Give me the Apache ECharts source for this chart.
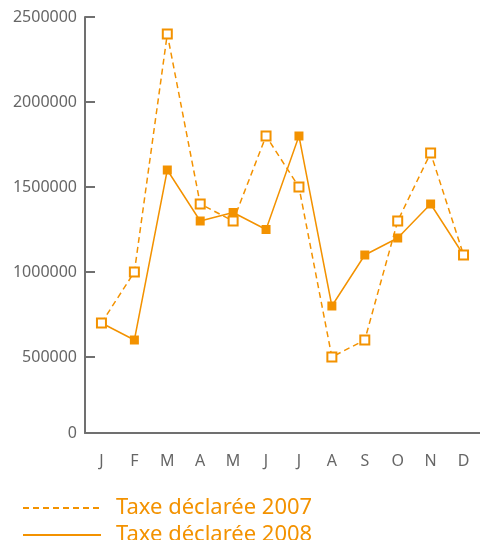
<!DOCTYPE html>
<html>
<head>
<meta charset="utf-8">
<script src="https://cdn.jsdelivr.net/npm/echarts@6/dist/echarts.min.js"></script>
<style>html,body{margin:0;padding:0;background:#fff}#c{width:480px;height:540px}</style>
</head>
<body>
<div id="c"></div>
<script>
var months = ['J','F','M','A','M','J','J','A','S','O','N','D'];
var tax2007 = [700000,1000000,2400000,1400000,1300000,1800000,1500000,500000,600000,1300000,1700000,1100000];
var tax2008 = [700000,600000,1600000,1300000,1350000,1250000,1800000,800000,1100000,1200000,1400000,1100000];
var yAxisBottom = 52941;
var yTickValues = [yAxisBottom,500000,1000000,1500000,2000000,2500000];
var yTickLabels = ['0','500000','1000000','1500000','2000000','2500000'];
var seriesNames = ['Taxe déclarée 2007','Taxe déclarée 2008'];

var orange = '#F39200';
var axisGray = '#707070';
var font = 'Noto Sans';

var chart = echarts.init(document.getElementById('c'), null, {renderer:'canvas'});
chart.setOption({
  animation: false,
  backgroundColor: '#fff',
  grid: {left: 85, top: 17, width: 401, height: 416, containLabel: false},
  xAxis: {
    type: 'category',
    data: months,
    boundaryGap: true,
    axisLine: {lineStyle: {color: axisGray, width: 2}},
    axisTick: {inside: true, length: 10, interval: 0, lineStyle: {color: axisGray, width: 2}},
    axisLabel: {margin: 20, fontSize: 16, color: '#666', fontFamily: font, interval: 0},
    splitLine: {show: false}
  },
  yAxis: {
    type: 'value',
    min: yAxisBottom,
    max: 2500000,
    axisLine: {show: true, lineStyle: {color: axisGray, width: 2}},
    axisTick: {show: true, inside: true, length: 10, customValues: yTickValues, lineStyle: {color: axisGray, width: 2}},
    axisLabel: {margin: 8, fontSize: 16, color: '#666', fontFamily: font, customValues: yTickValues,
      formatter: function (v) { var i = yTickValues.indexOf(v); return i >= 0 ? yTickLabels[i] : ''; }},
    splitLine: {show: false}
  },
  legend: {
    orient: 'vertical',
    left: 22,
    top: 497,
    height: 60,
    padding: 0,
    itemWidth: 78,
    itemHeight: 14,
    itemGap: 5,
    data: seriesNames,
    itemStyle: {opacity: 0},
    textStyle: {color: orange, fontSize: 22, fontFamily: font, lineHeight: 20, padding: [0,0,0,10]}
  },
  series: [
    {
      name: seriesNames[1],
      type: 'line',
      data: tax2008,
      z: 2,
      symbol: 'rect',
      symbolSize: 9,
      lineStyle: {color: orange, width: 1.5, type: 'solid'},
      itemStyle: {color: orange}
    },
    {
      name: seriesNames[0],
      type: 'line',
      data: tax2007,
      z: 3,
      symbol: 'emptyRect',
      symbolSize: 9,
      lineStyle: {color: orange, width: 1.5, type: [6,4]},
      itemStyle: {color: orange, borderWidth: 1.2}
    }
  ]
});
</script>
</body>
</html>
